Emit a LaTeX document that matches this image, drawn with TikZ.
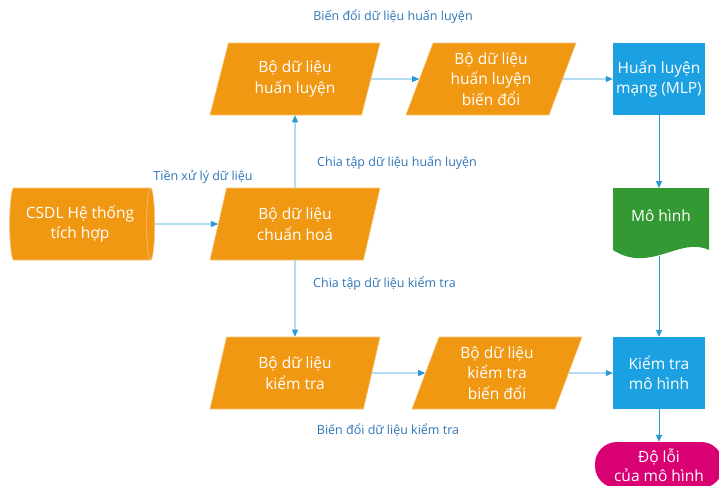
\documentclass[tikz,border=0pt]{standalone}
\usepackage{fontspec}
\setmainfont{Open Sans}
\usetikzlibrary{shapes.geometric,arrows.meta}
\definecolor{orgC}{RGB}{240,152,18}
\definecolor{orgL}{RGB}{247,196,120}
\definecolor{bluC}{RGB}{27,161,226}
\definecolor{grnC}{RGB}{51,153,51}
\definecolor{pnkC}{RGB}{216,0,115}
\definecolor{lineC}{RGB}{40,152,214}
\definecolor{labC}{RGB}{46,117,182}
\begin{document}
\begin{tikzpicture}[x=1pt,y=-1pt,
  font=\fontsize{15.5}{20.5}\selectfont,
  para/.style={trapezium, trapezium left angle=63, trapezium right angle=117,
    trapezium stretches body, minimum width=170pt, minimum height=72pt,
    fill=orgC, draw=orgL, line width=0.6pt, text=white, align=center, inner sep=0pt},
  procbox/.style={rectangle, minimum width=92pt, minimum height=72pt, fill=bluC,
    text=white, align=center, inner sep=0pt},
  lab/.style={text=labC, font=\fontsize{12.5}{14}\selectfont, inner sep=0pt},
  arr/.style={draw=lineC, line width=0.8pt, -{Triangle[length=7pt,width=6pt]}},
  conn/.style={draw=lineC, line width=0.8pt}]
\useasboundingbox (0,0) rectangle (719,485);
\clip (0,0) rectangle (719,485);
% nodes
\node[cylinder, shape aspect=0.22, minimum width=72pt, minimum height=145pt,
  fill=orgC, draw=orgL, line width=0.6pt, text=white, align=center, inner sep=0pt]
  (csdl) at (80,224) {CSDL Hệ thống\\tích hợp};
\node[para] (chuan) at (295,224) {Bộ dữ liệu\\chuẩn hoá};
\node[para] (hl) at (295,79) {Bộ dữ liệu\\huấn luyện};
\node[para] (hlbd) at (491,79) {Bộ dữ liệu\\huấn luyện\\biến đổi};
\node[procbox] (mlp) at (659,79) {Huấn luyện\\mạng (MLP)};
\node[para] (kt) at (295,373) {Bộ dữ liệu\\kiểm tra};
\node[para] (ktbd) at (497,373) {Bộ dữ liệu\\kiểm tra\\biến đổi};
\node[procbox] (ktmh) at (659,373) {Kiểm tra\\mô hình};
\node[rectangle, rounded corners=22pt, minimum width=128pt, minimum height=46pt,
  fill=pnkC, text=white, align=center, inner sep=0pt,
  font=\fontsize{15.5}{19}\selectfont]
  (doloi) at (659,465) {Độ lỗi\\của mô hình};
% document shape
\fill[grnC] (613,188) -- (709,188) -- (709,250)
  .. controls (680,236) and (650,274) .. (613,250) -- cycle;
\node[text=white, inner sep=0pt] (mh) at (661,216) {Mô hình};
\coordinate (mhtop) at (659,188);
\coordinate (mhbot) at (659,256);
% connectors
\draw[arr] (csdl) -- (chuan);
\draw[arr] (chuan) -- (hl);
\draw[arr] (chuan) -- (kt);
\draw[arr] (hl) -- (hlbd);
\draw[arr] (hlbd) -- (mlp);
\draw[arr] (mlp) -- (mhtop);
\draw[arr] (mhbot) -- (ktmh);
\draw[arr] (kt) -- (ktbd);
\draw[arr] (ktbd) -- (ktmh);
\draw[arr] (ktmh) -- (doloi);
% labels
\node[lab] (l1) at (393,17) {Biến đổi dữ liệu huấn luyện};
\node[lab] (l2) at (203,177) {Tiền xử lý dữ liệu};
\node[lab, anchor=west] (l3) at (317,163) {Chia tập dữ liệu huấn luyện};
\node[lab, anchor=west] (l4) at (313,284) {Chia tập dữ liệu kiểm tra};
\node[lab] (l5) at (388,430) {Biến đổi dữ liệu kiểm tra};
\end{tikzpicture}
\end{document}
